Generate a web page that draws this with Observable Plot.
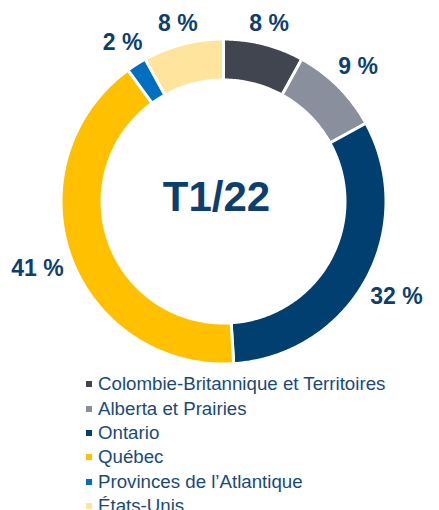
<!DOCTYPE html>
<html>
<head>
<meta charset="utf-8">
<script src="https://cdn.jsdelivr.net/npm/d3@7"></script>
<script src="https://cdn.jsdelivr.net/npm/@observablehq/plot@0.6"></script>
<style>
  html, body { margin: 0; padding: 0; background: #fff; width: 439px; height: 510px; overflow: hidden; }
  body { font-family: "Liberation Sans", Arial, sans-serif; }
  #legend { padding: 2px 0 0 86px; }
  .row { display: flex; align-items: center; height: 24.4px; font-size: 18.7px; color: #1a4a7a; white-space: nowrap; }
  .sw { width: 6px; height: 6px; margin-right: 6px; flex: none; }
</style>
</head>
<body>
<div id="chart"></div>
<div id="legend"></div>
<script>
const categories = ["Colombie-Britannique et Territoires", "Alberta et Prairies", "Ontario", "Québec", "Provinces de l’Atlantique", "États-Unis"];
const values = [8, 9, 32, 41, 2, 8];
const colors = ["#41454f", "#8a8f9e", "#003f70", "#ffc000", "#006fc0", "#ffe49e"];
const centerLabel = "T1/22";

// layout
const W = 439, H = 370, CX = 223, CY = 201;
const R_OUT = 162.5, R_IN = 121.5;
const textColor = "#0d3f6e";

const total = d3.sum(values);
let cum = 0;
const slices = values.map((v, i) => {
  const a0 = cum / total * 2 * Math.PI;
  cum += v;
  const a1 = cum / total * 2 * Math.PI;
  return {name: categories[i], value: v, a0, a1};
});

const pts = [];
for (const s of slices) {
  const n = Math.max(4, Math.ceil((s.a1 - s.a0) / 0.01));
  for (let k = 0; k <= n; k++) {
    const a = s.a0 + (s.a1 - s.a0) * k / n;
    pts.push({name: s.name, x: R_OUT * Math.sin(a), y: R_OUT * Math.cos(a)});
  }
  for (let k = n; k >= 0; k--) {
    const a = s.a0 + (s.a1 - s.a0) * k / n;
    pts.push({name: s.name, x: R_IN * Math.sin(a), y: R_IN * Math.cos(a)});
  }
}

const labels = slices.map(s => {
  const a = (s.a0 + s.a1) / 2;
  const text = `${s.value} %`;
  const digits = String(s.value).length;
  const hw = (digits * 12.8 + 6.4 + 20.5) / 2;
  const r = 170 + Math.abs(Math.sin(a)) * hw + Math.abs(Math.cos(a)) * 9;
  return {text, x: r * Math.sin(a), y: r * Math.cos(a)};
});

const chart = Plot.plot({
  width: W,
  height: H,
  margin: 0,
  x: {domain: [-CX, W - CX], axis: null},
  y: {domain: [CY - H, CY], axis: null},
  color: {domain: categories, range: colors},
  style: {fontFamily: "'Liberation Sans', Arial, sans-serif", background: "white"},
  marks: [
    Plot.line(pts, {x: "x", y: "y", z: "name", fill: "name", stroke: "white", strokeWidth: 3, curve: "linear-closed"}),
    Plot.text(labels, {x: "x", y: "y", text: "text", fill: textColor, fontSize: 23, fontWeight: "bold"}),
    Plot.text([centerLabel], {x: () => 0, y: () => 0, text: d => d, dx: -7, dy: -4, fill: textColor, fontSize: 42, fontWeight: "bold"})
  ]
});
document.getElementById("chart").appendChild(chart);

const legend = document.getElementById("legend");
categories.forEach((c, i) => {
  const row = document.createElement("div");
  row.className = "row";
  const sw = document.createElement("span");
  sw.className = "sw";
  sw.style.background = colors[i];
  const t = document.createElement("span");
  t.textContent = c;
  row.appendChild(sw);
  row.appendChild(t);
  legend.appendChild(row);
});
</script>
</body>
</html>
